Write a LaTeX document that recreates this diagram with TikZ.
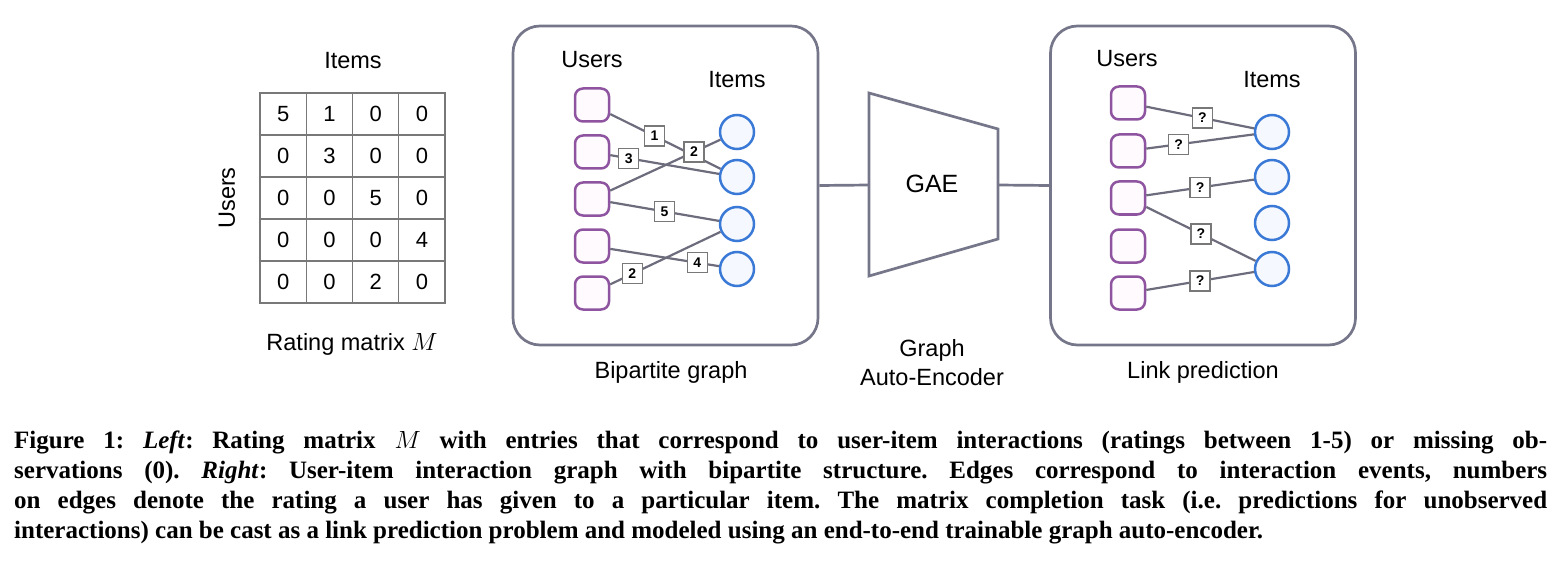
\documentclass[tikz,border=0pt]{standalone}
\usepackage{fontspec}
\setmainfont{Liberation Serif}
\setsansfont{Liberation Sans}
\usepackage{tikz}
\usetikzlibrary{positioning,calc}

\definecolor{panelgray}{RGB}{118,118,138}
\definecolor{edgegray}{RGB}{108,108,124}
\definecolor{gridgray}{RGB}{120,120,120}
\definecolor{userpurple}{RGB}{142,84,160}
\definecolor{userfill}{RGB}{254,250,254}
\definecolor{itemblue}{RGB}{58,122,214}
\definecolor{itemfill}{RGB}{245,249,255}

\newcommand{\diagsize}[1]{\sffamily\fontsize{#1}{#1}\selectfont}
\frenchspacing

\begin{document}
\begin{tikzpicture}[x=1pt,y=-1pt,
    panel/.style={draw=panelgray, line width=2.7pt, rounded corners=27pt,
        minimum width=305pt, minimum height=319pt},
    cell/.style={draw=gridgray, line width=1.4pt, minimum width=46.25pt,
        minimum height=42pt, inner sep=0pt, font=\diagsize{22}},
    user/.style={draw=userpurple, fill=userfill, line width=2.5pt,
        rounded corners=8pt, minimum width=34pt, minimum height=33pt},
    item/.style={draw=itemblue, fill=itemfill, line width=2.5pt, circle,
        minimum size=34pt, inner sep=0pt},
    edge/.style={draw=edgegray, line width=2.2pt},
    rating/.style={draw=gridgray, fill=white, line width=1.3pt, minimum size=20pt,
        inner sep=0pt, font=\sffamily\bfseries\fontsize{14}{14}\selectfont},
    label/.style={font=\diagsize{23.5}, inner sep=0pt}]
    \useasboundingbox (0,0) rectangle (1560,580);

    % Rating matrix
    \foreach \rowvals [count=\r] in {{5,1,0,0},{0,3,0,0},{0,0,5,0},{0,0,0,4},{0,0,2,0}}
        \foreach \v [count=\c] in \rowvals
            \node[cell] (m-\r-\c) at ({260+46.25*(\c-0.5)},{93+42*(\r-0.5)}) {\v};
    \node[label] (mitems) at (353,61) {Items};
    \node[label, rotate=90] (musers) at (227,198) {Users};
    \node[label] (mname) at (352,344) {Rating matrix $M$};

    % Bipartite graph
    \node[panel] (bip) at (665.5,185.5) {};
    \node[label] (busers) at (592,60) {Users};
    \node[label] (bitems) at (737,80) {Items};
    \foreach \y [count=\i] in {105,152,199,246,293}
        \node[user] (bu\i) at (592,\y) {};
    \foreach \y [count=\i] in {132,177,224,269}
        \node[item] (bi\i) at (737,\y) {};
    \draw[edge] (bu1) -- node[rating, pos=0.4] {1} (bi2);
    \draw[edge] (bu2) -- node[rating, pos=0.17] {3} (bi2);
    \draw[edge] (bu3) -- node[rating, pos=0.76] {2} (bi1);
    \draw[edge] (bu3) -- node[rating, pos=0.5] {5} (bi3);
    \draw[edge] (bu4) -- node[rating, pos=0.8] {4} (bi4);
    \draw[edge] (bu5) -- node[rating, pos=0.2] {2} (bi3);
    \node[label] (bname) at (671,372) {Bipartite graph};

    % Graph auto-encoder
    \coordinate (gaeL) at (869,185);
    \coordinate (gaeR) at (998,185);
    \draw[panelgray, line width=2.7pt, line join=miter]
        (869,93) -- (998,129) -- (998,239) -- (869,276) -- cycle;
    \node[font=\diagsize{25}, inner sep=0pt] (gae) at (932,184) {GAE};
    \node[align=center, inner sep=0pt, font=\sffamily\fontsize{23.5}{29}\selectfont]
        (gname) at (932,363) {Graph\\Auto-Encoder};

    % Link prediction
    \node[panel] (lp) at (1203,185.5) {};
    \node[label] (lusers) at (1127,59) {Users};
    \node[label] (litems) at (1272,80) {Items};
    \foreach \y [count=\i] in {103,151,198,246,293}
        \node[user] (lu\i) at (1128,\y) {};
    \foreach \y [count=\i] in {132,177,223,269}
        \node[item] (li\i) at (1272,\y) {};
    \draw[edge] (lu1) -- node[rating, pos=0.52] {?} (li1);
    \draw[edge] (lu2) -- node[rating, pos=0.3] {?} (li1);
    \draw[edge] (lu3) -- node[rating, pos=0.5] {?} (li2);
    \draw[edge] (lu3) -- node[rating, pos=0.5] {?} (li4);
    \draw[edge] (lu5) -- node[rating, pos=0.5] {?} (li4);
    \node[label] (lname) at (1203,372) {Link prediction};

    % Connectors
    \draw[panelgray, line width=2.7pt] (bip.east) -- (gaeL);
    \draw[panelgray, line width=2.7pt] (gaeR) -- (lp.west);

    % Caption
    \begin{scope}[every node/.style={anchor=base west, inner sep=0pt,
        font=\bfseries\fontsize{25}{30}\selectfont}]
    \node (cap1) at (14,448) {\hbox to 1533pt{Figure 1: \textit{Left}: Rating matrix {\mdseries$M$} with entries that correspond to user-item interactions (ratings between 1-5) or missing ob-}};
    \node (cap2) at (14,478) {\hbox to 1533pt{servations (0). \textit{Right}: User-item interaction graph with bipartite structure. Edges correspond to interaction events, numbers}};
    \node (cap3) at (14,508) {\hbox to 1533pt{on edges denote the rating a user has given to a particular item. The matrix completion task (i.e. predictions for unobserved}};
    \node (cap4) at (14,538) {interactions) can be cast as a link prediction problem and modeled using an end-to-end trainable graph auto-encoder.};
    \end{scope}
\end{tikzpicture}
\end{document}
